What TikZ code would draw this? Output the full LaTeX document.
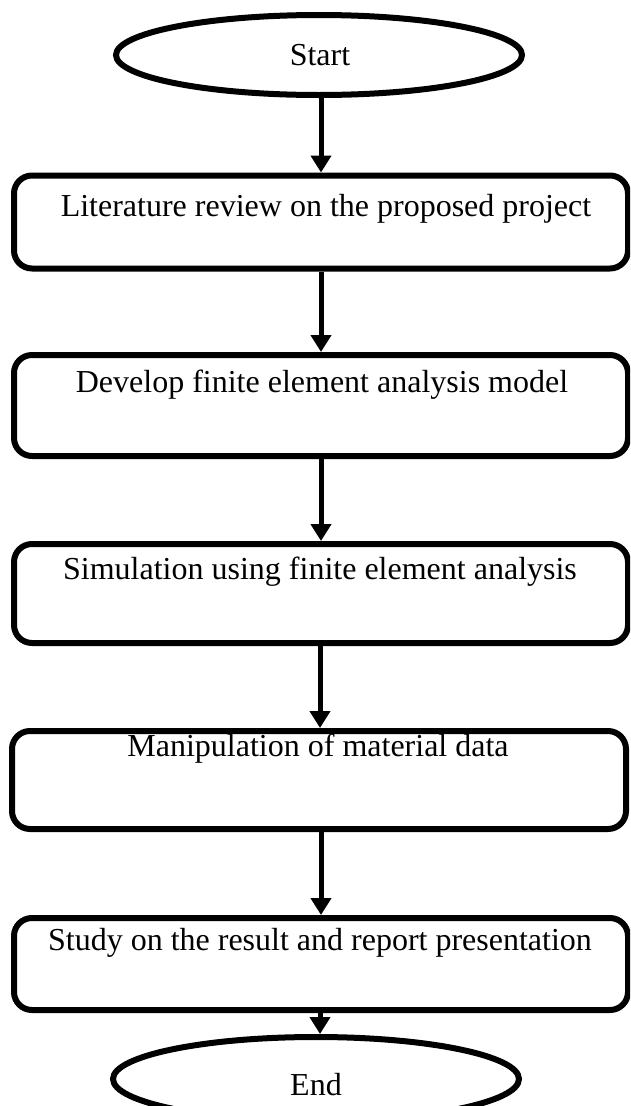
\documentclass[tikz,border=0pt]{standalone}
\usepackage{fontspec}
\setmainfont{Liberation Serif}
\usetikzlibrary{shapes.geometric,arrows.meta}
\begin{document}
\begin{tikzpicture}[x=1pt,y=-1pt,
  ell/.style={draw,ellipse,line width=6pt,minimum width=406pt,minimum height=80pt,inner sep=0pt},
  stepbox/.style={draw,rectangle,rounded corners=18pt,line width=6pt,minimum width=614pt,inner sep=0pt},
  lbl/.style={font=\fontsize{32pt}{36pt}\selectfont,inner sep=0pt},
  conn/.style={line width=5pt,-{Triangle[width=20pt,length=17pt]}}]
\useasboundingbox (0,0) rectangle (630,1106);
\clip (0,0) rectangle (630,1106);
% nodes
\node[ell] (start) at (319,55) {};
\node[lbl] (tstart) at (320,55) {Start};
\node[stepbox,minimum height=93pt] (b1) at (321,222) {};
\node[lbl] (t1) at (326,209) {Literature review on the proposed project};
\node[stepbox,minimum height=101pt] (b2) at (321,405.5) {};
\node[lbl] (t2) at (322,385) {Develop finite element analysis model};
\node[stepbox,minimum height=99pt] (b3) at (321,593.5) {};
\node[lbl] (t3) at (320,572) {Simulation using finite element analysis};
\node[stepbox,minimum height=98pt] (b4) at (319,780) {};
\node[lbl] (t4) at (318,749) {Manipulation of material data};
\node[stepbox,minimum height=92pt] (b5) at (321,964) {};
\node[lbl] (t5) at (320,943) {Study on the result and report presentation};
\node[ell,minimum height=84pt] (end) at (316,1079) {};
\node[lbl] (tend) at (316,1085) {End};
% connectors
\draw[conn] (start.south -| 321,0) -- (b1.north -| 321,0);
\draw[conn] (b1.south -| 321,0) -- (b2.north -| 321,0);
\draw[conn] (b2.south -| 321,0) -- (b3.north -| 321,0);
\draw[conn] (b3.south -| 320,0) -- (b4.north -| 320,0);
\draw[conn] (b4.south -| 321,0) -- (b5.north -| 321,0);
\draw[conn] (b5.south -| 320,0) -- (end.north -| 320,0);
\end{tikzpicture}
\end{document}
